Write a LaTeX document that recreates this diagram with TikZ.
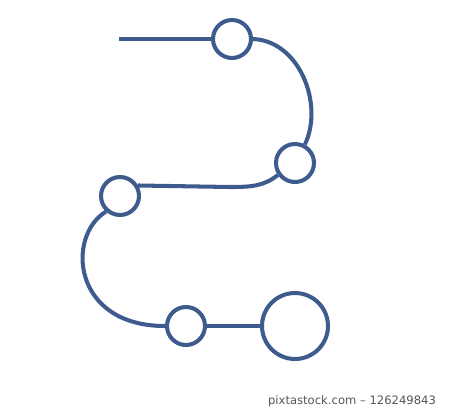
\documentclass[tikz,border=0pt]{standalone}
\usepackage{fontspec}
\newfontfamily\markfont{DejaVu Sans}
\usepackage{tikz}
\definecolor{pathblue}{RGB}{62,91,142}
\definecolor{markgray}{RGB}{85,85,85}
\tikzset{stop/.style={draw=pathblue, circle, line width=2.3pt, fill=white, inner sep=0pt, minimum size=0.76cm},
    bigstop/.style={stop, minimum size=1.32cm},
    road/.style={draw=pathblue, line width=2.3pt}
}

\begin{document}
\begin{tikzpicture}[x=0.02cm, y=-0.02cm]
            \useasboundingbox (0,0) rectangle (450,410);
            \coordinate (start) at (119, 39);
            \node[stop] (a) at (232, 39) {};
            \node[stop] (b) at (295, 163) {};
            \node[stop] (c) at (120, 196) {};
            \node[stop] (d) at (186, 326) {};
            \node[bigstop] (e) at (295, 326) {};
            \node[font=\markfont\fontsize{6.6}{7}\selectfont, text=markgray] (mark) at (352, 401) {pixtastock.com – 126249843};
            \draw[road] (start) to (a);
            \draw[road] (a.east) .. controls (300, 41) and (324, 105) .. (b.62);
            \draw[road] (b.215) .. controls (264, 186) and (252, 187) .. (230, 187) -- (c.30);
            \draw[road] (c.228) .. controls (66, 236) and (72, 326) .. (d.west);
            \draw[road] (d.east) to (e.west);
        \end{tikzpicture}
\end{document}
